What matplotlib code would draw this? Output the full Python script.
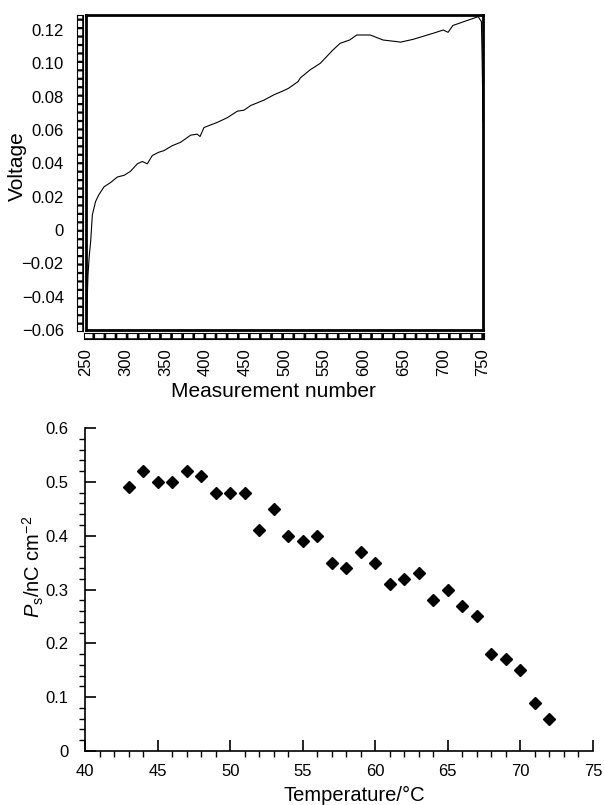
import matplotlib
matplotlib.use("Agg")
import matplotlib.pyplot as plt
from matplotlib.ticker import FixedLocator, MultipleLocator

plt.rcParams.update({
    "font.family": ["Liberation Sans", "DejaVu Sans"],
    "font.size": 12,
    "mathtext.fontset": "custom",
    "mathtext.rm": "Liberation Sans",
    "mathtext.it": "Liberation Sans:italic",
})

# voltage trace
MEAS = [250, 251, 252.5, 254, 255.9, 258, 262, 266, 272.7, 281, 289.5, 297.9,
        306, 314.6, 320.9, 327.2, 333.5, 341.9, 348, 358.7, 369, 381.8, 390,
        393.6, 398.6, 415, 428, 440.6, 449, 457.5, 474, 487, 497, 505, 517,
        520, 532, 545, 561, 570, 582, 591, 608, 624, 642, 646, 662, 687, 700,
        706, 712, 730, 744, 748, 749, 750]
VOLT = [-0.060, -0.050, -0.027, -0.016, -0.0067, 0.0091, 0.017, 0.021, 0.0259,
        0.0285, 0.0318, 0.0328, 0.0352, 0.0397, 0.0411, 0.0397, 0.0447, 0.0467,
        0.0476, 0.0506, 0.0526, 0.0569, 0.0575, 0.0561, 0.0615, 0.0645,
        0.0674, 0.0713, 0.0719, 0.0747, 0.0779, 0.0812, 0.0832, 0.085, 0.089,
        0.0913, 0.096, 0.100, 0.108, 0.112, 0.114, 0.117, 0.117, 0.114, 0.113,
        0.1127, 0.1144, 0.118, 0.120, 0.1186, 0.1227, 0.1257, 0.128, 0.125,
        0.100, 0.065]
V_TICKS = [-0.06, -0.04, -0.02, 0, 0.02, 0.04, 0.06, 0.08, 0.10, 0.12]
V_LABELS = ["\u22120.06", "\u22120.04", "\u22120.02", "0", "0.02", "0.04",
            "0.06", "0.08", "0.10", "0.12"]
M_TICKS = [250, 300, 350, 400, 450, 500, 550, 600, 650, 700, 750]

# spontaneous polarisation vs temperature (lower panel)
TEMP = [43, 44, 45, 46, 47, 48, 49, 50, 51, 52, 53, 54, 55, 56, 57, 58, 59,
        60, 61, 62, 63, 64, 65, 66, 67, 68, 69, 70, 71, 72]
PS = [0.49, 0.52, 0.50, 0.50, 0.52, 0.51, 0.48, 0.48, 0.48, 0.41, 0.45, 0.40,
      0.39, 0.40, 0.35, 0.34, 0.37, 0.35, 0.31, 0.32, 0.33, 0.28, 0.30, 0.27,
      0.25, 0.18, 0.17, 0.15, 0.09, 0.06]
PS_TICKS = [0, 0.1, 0.2, 0.3, 0.4, 0.5, 0.6]
PS_LABELS = ["0", "0.1", "0.2", "0.3", "0.4", "0.5", "0.6"]

W, H = 604, 805
fig = plt.figure(figsize=(W / 100, H / 100), dpi=100)


def box(x0, y0, x1, y1):
    return [x0 / W, 1 - y1 / H, (x1 - x0) / W, (y1 - y0) / H]


# ---- upper panel ----
ax = fig.add_axes(box(86, 15, 483, 330))
ax.plot(MEAS, VOLT, color="black", lw=0.8)
ax.set_xlim(250, 750)
ax.set_ylim(-0.06, 0.129)
ax.yaxis.set_major_locator(FixedLocator(V_TICKS))
ax.set_yticklabels(V_LABELS)
ax.xaxis.set_major_locator(FixedLocator(M_TICKS))
ax.set_xticklabels([str(m) for m in M_TICKS], rotation=90)
ax.tick_params(axis="both", length=0, labelsize=12)
ax.tick_params(axis="y", pad=16)
ax.tick_params(axis="x", pad=13)
for s in ax.spines.values():
    s.set_linewidth(2.0)
ax.set_xlabel("Measurement number", fontsize=15, va="center")
ax.xaxis.set_label_coords(0.471, -0.194)
ax.set_ylabel("Voltage", fontsize=15, va="center")
ax.yaxis.set_label_coords(-0.172, 0.52)

# ruler-like strips along the left and bottom edges
left_strip = fig.add_axes(box(77, 15, 83, 331), facecolor="black")
left_strip.plot([0.5, 0.5], [0, 1], color="white", lw=3.2, dashes=(1.4, 0.5),
                solid_capstyle="butt")
left_strip.set_xlim(0, 1)
left_strip.set_ylim(0, 1)
left_strip.set_xticks([])
left_strip.set_yticks([])

bottom_strip = fig.add_axes(box(84, 333, 484, 339), facecolor="black")
bottom_strip.plot([0, 1], [0.5, 0.5], color="white", lw=3.2, dashes=(1.9, 0.6),
                  solid_capstyle="butt")
bottom_strip.set_xlim(0, 1)
bottom_strip.set_ylim(0, 1)
bottom_strip.set_xticks([])
bottom_strip.set_yticks([])

# ---- lower panel ----
ax2 = fig.add_axes(box(85, 428, 593, 751))
ax2.plot(TEMP, PS, "D", color="black", ms=6, mec="black")
ax2.set_xlim(40, 75)
ax2.set_ylim(0, 0.6)
ax2.spines["top"].set_visible(False)
ax2.spines["right"].set_visible(False)
for s in ("left", "bottom"):
    ax2.spines[s].set_linewidth(1.2)
ax2.xaxis.set_major_locator(MultipleLocator(5))
ax2.xaxis.set_minor_locator(MultipleLocator(1))
ax2.yaxis.set_major_locator(FixedLocator(PS_TICKS))
ax2.set_yticklabels(PS_LABELS)
ax2.yaxis.set_minor_locator(MultipleLocator(0.02))
ax2.tick_params(which="major", direction="in", length=8, width=1.2,
                labelsize=12)
ax2.tick_params(which="minor", direction="out", length=4, width=1.0)
ax2.tick_params(axis="x", which="major", pad=9)
ax2.tick_params(axis="y", which="major", pad=12)
ax2.set_xlabel("Temperature/\u00b0C", fontsize=14.5, va="center")
ax2.xaxis.set_label_coords(0.53, -0.139)
ax2.set_ylabel("$\\mathit{P}_{\\mathrm{s}}$/nC cm$^{-2}$", fontsize=14.5,
               va="center")
ax2.yaxis.set_label_coords(-0.102, 0.57)

fig.savefig("out.png", dpi=100)
